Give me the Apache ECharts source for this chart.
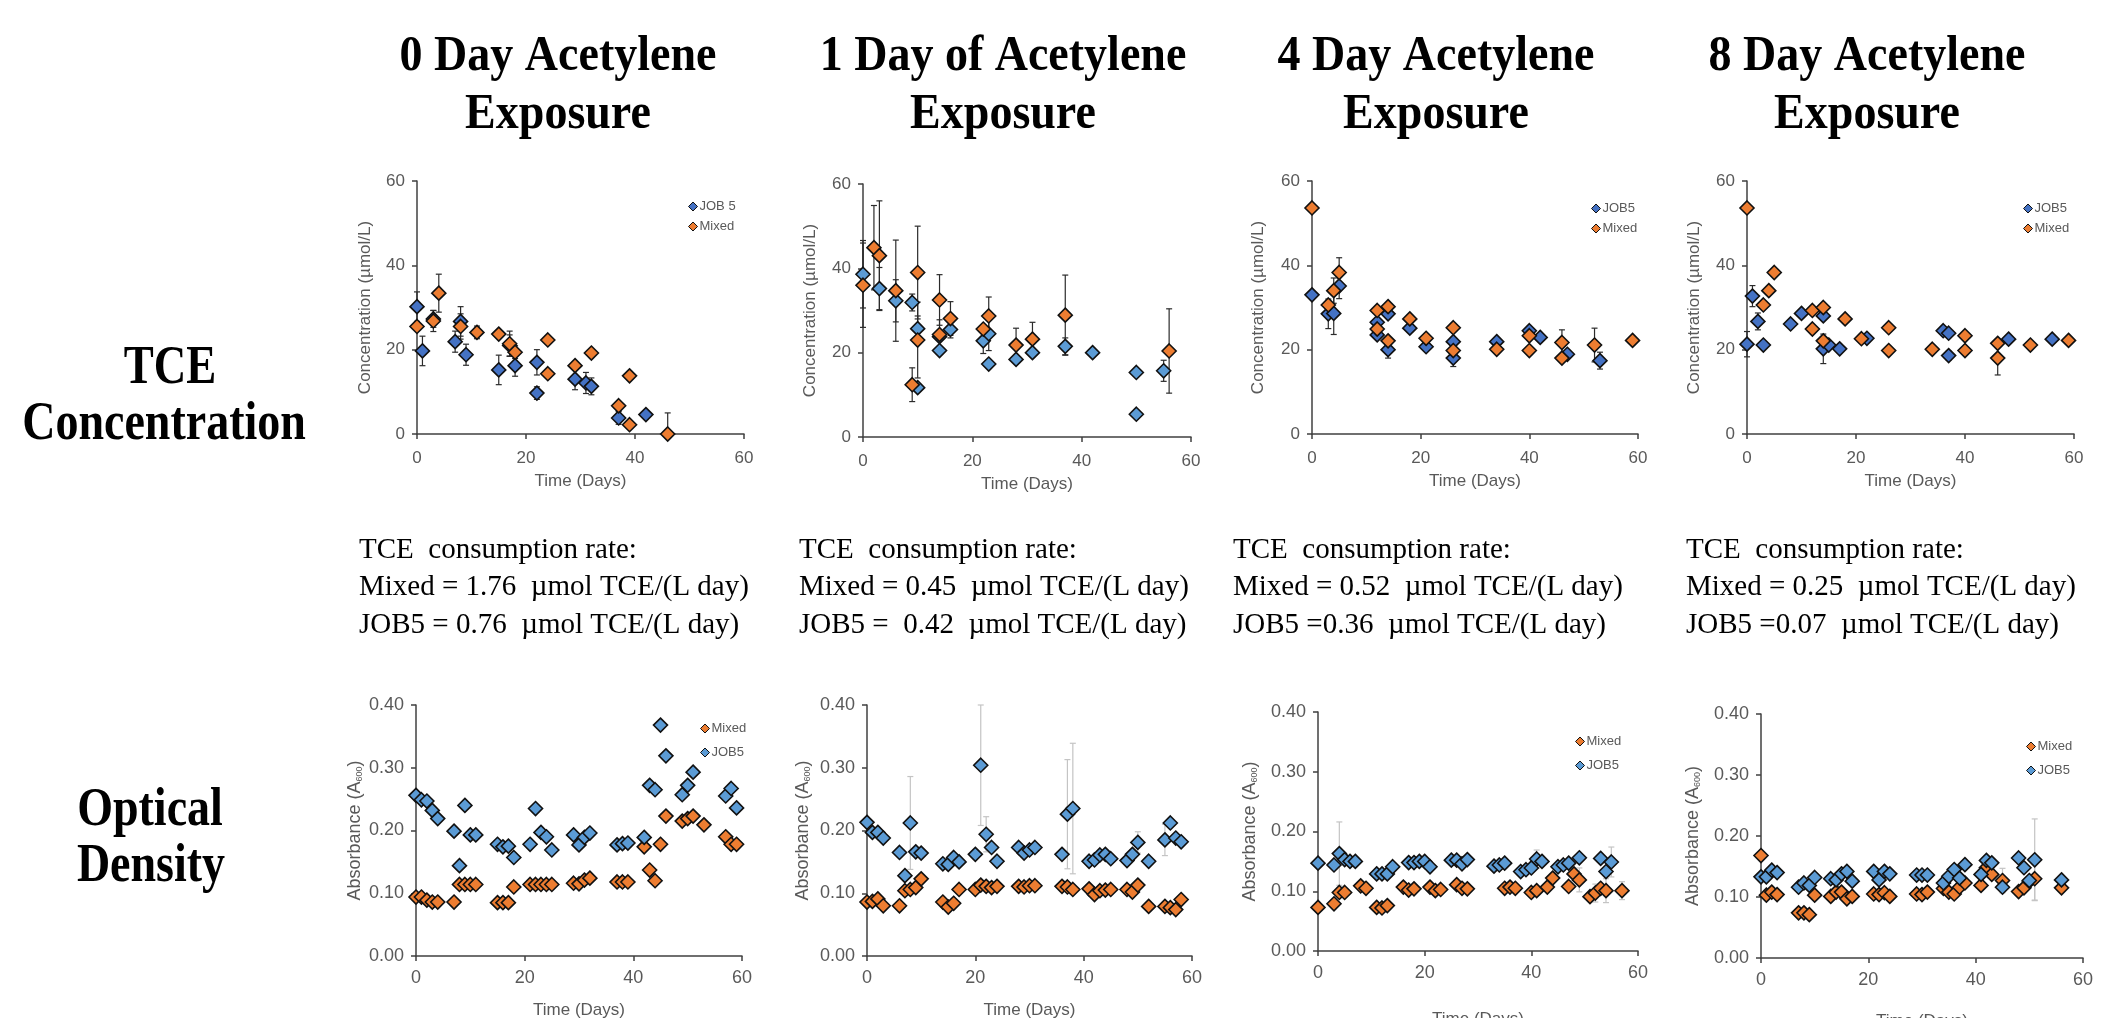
<!DOCTYPE html>
<html>
<head>
<meta charset="utf-8">
<script src="https://cdn.jsdelivr.net/npm/echarts@6/dist/echarts.min.js"></script>
<style>
  html, body { margin: 0; padding: 0; background: #fff; }
  #chart { width: 2102px; height: 1018px; }
</style>
</head>
<body>
<div id="chart"></div>
<script>
// each point: [day, value, error bar (optional)]
const conc0Job5 = [[0,30.2,3.5],[1,19.7,3.5],[3,27.3,2],[7,21.9,2.5],[8,26.7,3.5],[9,18.8,2.5],[15,15.2,3.5],[17,21,2.5],[18,16.2,2.5],[22,17,3],[22,9.7,1.5],[29,13,2.5],[31,12.1,2.5],[32,11.3,2],[37,3.8,1.5],[42,4.6]];
const conc0Mixed = [[0,25.5],[3,26.8,2.5],[4,33.4,4.5],[8,25.5,3],[11,24.1,1.5],[15,23.7],[17,21.4,3],[18,19.4,1.5],[24,22.3],[24,14.3],[29,16.2],[32,19.2],[37,6.7],[39,13.8],[39,2.2],[46,0,5]];

const conc1Job5 = [[0,38.6,8],[3,35.2,5],[6,32.3,5],[9,31.9,2],[10,25.7,3],[10,11.7],[14,23.8,4],[14,20.5],[16,25.5,2],[22,22.8,3],[23,24.5,4],[23,17.3],[28,18.4],[31,20],[37,21.5,2],[42,20],[50,15.3],[50,5.4],[55,15.7,2.5]];
const conc1Mixed = [[0,36,10],[2,44.9,10],[3,43,13],[6,34.7,12],[9,12.4,4],[10,39,11],[10,23,9],[14,32.5,6],[14,24.3],[16,28.1,4],[22,25.6],[23,28.7,4.5],[28,21.8,4],[31,23.2,4],[37,28.9,9.5],[56,20.4,10]];

const conc4Job5 = [[0,33],[3,28.5,3.5],[4,28.6,5],[5,35.1,3],[12,26.5],[12,23.5],[14,28.5],[14,20,2],[18,25.1],[21,20.7],[26,21.9],[26,18,2],[34,21.9],[40,24.5],[42,22.9],[47,18.9],[53,17.4,2]];
const conc4Mixed = [[0,53.6],[3,30.6],[4,34,3],[5,38.3,3.5],[12,29.3],[12,24.9],[14,30.2],[14,22.1],[18,27.3],[21,22.7,1],[26,25.2],[26,19.8],[34,20.1],[40,23.3],[40,19.8],[46,21.7,3],[46,18],[52,21.1,4],[59,22.2]];

const conc8Job5 = [[0,21.3,3],[1,32.7,2.5],[2,26.7,2],[3,21.1],[8,26.1],[10,28.6],[14,28],[14,20.2,3.5],[15,21.1],[17,20.2],[22,22.7],[36,24.5],[37,23.9],[37,18.6,1],[48,22.5],[56,22.5]];
const conc8Mixed = [[0,53.6],[3,30.6],[4,34],[5,38.3],[12,29.3],[12,24.9],[14,30],[14,22.1],[18,27.3],[21,22.6],[26,25.2],[26,19.8],[34,20.1],[40,23.3],[40,19.8],[46,21.5],[46,18,4],[52,21.1],[59,22.2]];

const od0Job5 = [[0,.256],[1,.249],[2,.247],[3,.232],[4,.219],[7,.199],[8,.144],[9,.240],[10,.193],[11,.193],[15,.178],[16,.174],[17,.175],[18,.157],[21,.178],[22,.235],[23,.197],[24,.190],[25,.169],[29,.193],[30,.177],[31,.189],[32,.196],[37,.177],[38,.179],[39,.180],[42,.189],[43,.272],[44,.265],[45,.368],[46,.319],[49,.257],[50,.272],[51,.293],[57,.255],[58,.267],[59,.236]];
const od0Mixed = [[0,.094],[1,.094],[2,.089],[3,.086],[4,.086],[7,.086],[8,.114],[9,.114],[10,.114],[11,.114],[15,.085],[16,.085],[17,.085],[18,.110],[21,.114],[22,.114],[23,.114],[24,.114],[25,.114],[29,.116],[30,.115],[31,.121],[32,.124],[37,.118],[38,.118],[39,.118],[42,.174],[43,.137],[44,.120],[45,.178],[46,.223],[49,.215],[50,.219],[51,.223],[53,.209],[57,.190],[58,.178],[59,.178]];

const od1Job5 = [[0,.213],[1,.197],[2,.197],[3,.188],[6,.165],[7,.128],[8,.212,.074],[9,.166],[10,.164],[14,.147],[15,.146],[16,.157],[17,.150],[20,.162],[21,.304,.096],[22,.194,.028],[23,.173],[24,.151],[28,.173],[29,.164],[30,.169],[31,.173],[36,.162],[37,.226,.087],[38,.235,.104],[41,.151],[42,.153],[43,.161],[44,.162],[45,.155],[48,.152],[49,.162],[50,.181,.017],[52,.151],[55,.185,.025],[56,.212],[57,.188],[58,.182]];
const od1Mixed = [[0,.086],[1,.087],[2,.091],[3,.080],[6,.080],[7,.104],[8,.106],[9,.109],[10,.123],[14,.086],[15,.078],[16,.084],[17,.106],[20,.106],[21,.113],[22,.111],[23,.109],[24,.111],[28,.111],[29,.110],[30,.112],[31,.112],[36,.111],[37,.110],[38,.106],[41,.107],[42,.098],[43,.104],[44,.105],[45,.106],[48,.106],[49,.102],[50,.113],[52,.079],[55,.079],[56,.077],[57,.074],[58,.090]];

const od4Job5 = [[0,.147],[3,.144],[4,.163,.053],[5,.153],[6,.150],[7,.150],[11,.129],[12,.129],[13,.129],[14,.141],[17,.148],[18,.148],[19,.150],[20,.150],[21,.141],[25,.152],[26,.152],[27,.146],[28,.153],[33,.142],[34,.144],[35,.147],[38,.133],[39,.136],[40,.139],[41,.154,.015],[42,.150],[45,.141],[46,.144],[47,.147],[49,.156],[53,.155],[54,.133],[55,.149,.025]];
const od4Mixed = [[0,.073],[3,.079],[4,.098],[5,.098],[8,.109],[9,.105],[11,.073],[12,.072],[13,.076],[16,.107],[17,.102],[18,.104],[21,.107],[22,.101],[23,.103],[26,.111],[27,.105],[28,.104],[35,.105],[36,.107],[37,.105],[40,.098],[41,.101],[43,.107],[44,.122],[47,.108],[48,.129],[49,.119,.02],[51,.091],[52,.097,.015],[53,.105],[54,.101,.02],[57,.101,.015]];

const od8Job5 = [[0,.133],[1,.133],[2,.144],[3,.140],[7,.116],[8,.123],[9,.119],[10,.132],[13,.130],[14,.128],[15,.138],[16,.142],[17,.126],[21,.142],[22,.128],[23,.142],[24,.138],[29,.136],[30,.136],[31,.136],[34,.123],[35,.134],[36,.145],[37,.131],[38,.153],[41,.137],[42,.160],[43,.156],[45,.116],[48,.164],[49,.148],[50,.127],[51,.161,.067],[56,.128]];
const od8Mixed = [[0,.168],[1,.103],[2,.108],[3,.104],[7,.074],[8,.074],[9,.071],[10,.103],[13,.101],[14,.108],[15,.108],[16,.097],[17,.101],[21,.105],[22,.104],[23,.107],[24,.101],[29,.105],[30,.104],[31,.108],[34,.114],[35,.108],[36,.105],[37,.116],[38,.123],[41,.119],[42,.148],[43,.137],[45,.127,.02],[48,.109],[49,.115],[50,.126],[51,.130,.035],[56,.115]];

const columnTitles = [['0 Day Acetylene', 'Exposure'], ['1 Day of Acetylene', 'Exposure'], ['4 Day Acetylene', 'Exposure'], ['8 Day Acetylene', 'Exposure']];
const rateLines = [
  ['TCE  consumption rate:', 'Mixed = 1.76  µmol TCE/(L day)', 'JOB5 = 0.76  µmol TCE/(L day)'],
  ['TCE  consumption rate:', 'Mixed = 0.45  µmol TCE/(L day)', 'JOB5 =  0.42  µmol TCE/(L day)'],
  ['TCE  consumption rate:', 'Mixed = 0.52  µmol TCE/(L day)', 'JOB5 =0.36  µmol TCE/(L day)'],
  ['TCE  consumption rate:', 'Mixed = 0.25  µmol TCE/(L day)', 'JOB5 =0.07  µmol TCE/(L day)']
];
const timeTicks = [0, 20, 40, 60];

const ORANGE = '#ED7D31';
const BLUE_DK = '#4472C4';
const BLUE_LT = '#5B9BD5';

// layout of the 8 small plots
const panels = [
  { box: [417, 181, 327, 253], od: false, job: conc0Job5, mix: conc0Mixed, blue: BLUE_DK, jobName: 'JOB 5', legend: [688, 200], xGap: 39, yGap: 43 },
  { box: [863, 184, 328, 253], od: false, job: conc1Job5, mix: conc1Mixed, blue: BLUE_LT, jobName: 'JOB5', legend: null, xGap: 39, yGap: 44 },
  { box: [1312, 181, 326, 253], od: false, job: conc4Job5, mix: conc4Mixed, blue: BLUE_DK, jobName: 'JOB5', legend: [1591, 202], xGap: 39, yGap: 45 },
  { box: [1747, 181, 327, 253], od: false, job: conc8Job5, mix: conc8Mixed, blue: BLUE_DK, jobName: 'JOB5', legend: [2023, 202], xGap: 39, yGap: 44 },
  { box: [416, 705, 326, 251], od: true, job: od0Job5, mix: od0Mixed, blue: BLUE_LT, jobName: 'JOB5', legend: [700, 722], xGap: 46, yGap: 52 },
  { box: [867, 705, 325, 251], od: true, job: od1Job5, mix: od1Mixed, blue: BLUE_LT, jobName: 'JOB5', legend: null, xGap: 46, yGap: 55 },
  { box: [1318, 712, 320, 239], od: true, job: od4Job5, mix: od4Mixed, blue: BLUE_LT, jobName: 'JOB5', legend: [1575, 735], xGap: 60, yGap: 59 },
  { box: [1761, 714, 322, 244], od: true, job: od8Job5, mix: od8Mixed, blue: BLUE_LT, jobName: 'JOB5', legend: [2026, 740], xGap: 55, yGap: 59 }
];

const AXIS = '#404040';
const LABEL = '#595959';

function errorRender(color) {
  return function (params, api) {
    const x = api.value(0), v = api.value(1), e = api.value(2);
    const hi = api.coord([x, v + e]);
    const lo = api.coord([x, Math.max(v - e, 0)]);
    const w = 3;
    const st = { stroke: color, lineWidth: 1.2 };
    return {
      type: 'group',
      children: [
        { type: 'line', shape: { x1: hi[0], y1: hi[1], x2: lo[0], y2: lo[1] }, style: st },
        { type: 'line', shape: { x1: hi[0] - w, y1: hi[1], x2: hi[0] + w, y2: hi[1] }, style: st },
        { type: 'line', shape: { x1: lo[0] - w, y1: lo[1], x2: lo[0] + w, y2: lo[1] }, style: st }
      ]
    };
  };
}

const grid = [], xAxis = [], yAxis = [], series = [], legend = [];

panels.forEach(function (p, i) {
  grid.push({ left: p.box[0], top: p.box[1], width: p.box[2], height: p.box[3], containLabel: false, outerBoundsMode: 'none' });
  const numSize = p.od ? 18 : 17;
  xAxis.push({
    gridIndex: i, type: 'value', min: 0, max: 60, interval: 20,
    axisLine: { show: true, lineStyle: { color: AXIS, width: 1.5 } },
    axisTick: { show: true, length: 5, lineStyle: { color: AXIS, width: 1.5 } },
    axisLabel: { fontSize: numSize, color: LABEL, margin: p.od ? 13 : 16, fontFamily: 'Liberation Sans',
      formatter: function (v) { return timeTicks.indexOf(v) >= 0 ? String(v) : ''; } },
    splitLine: { show: false },
    name: 'Time (Days)', nameLocation: 'middle', nameGap: p.xGap,
    nameTextStyle: { fontSize: 17, color: LABEL, fontFamily: 'Liberation Sans' }
  });
  yAxis.push({
    gridIndex: i, type: 'value', min: 0, max: p.od ? 0.4 : 60, interval: p.od ? 0.1 : 20,
    axisLine: { show: true, lineStyle: { color: AXIS, width: 1.5 } },
    axisTick: { show: true, length: 5, lineStyle: { color: AXIS, width: 1.5 } },
    axisLabel: { fontSize: numSize, color: LABEL, margin: 12, fontFamily: 'Liberation Sans',
      formatter: function (v) { return p.od ? v.toFixed(2) : String(v); } },
    splitLine: { show: false },
    name: p.od ? 'Absorbance (A{sub|600})' : 'Concentration (µmol/L)',
    nameLocation: 'middle', nameGap: p.yGap,
    nameTextStyle: {
      fontSize: p.od ? 18 : 17, color: LABEL, fontFamily: 'Liberation Sans',
      rich: { sub: { fontSize: 9, color: LABEL, fontFamily: 'Liberation Sans', verticalAlign: 'bottom', padding: [6, 0, 0, 0] } }
    }
  });

  const errColor = p.od ? '#c4c4c4' : '#2b2b2b';
  const sets = [
    { name: p.jobName, data: p.job, color: p.blue },
    { name: 'Mixed', data: p.mix, color: ORANGE }
  ];
  if (p.od) sets.reverse();
  sets.forEach(function (s) {
    series.push({
      type: 'custom', xAxisIndex: i, yAxisIndex: i, silent: true, z: 1,
      renderItem: errorRender(errColor),
      data: s.data.filter(function (d) { return d[2]; }).map(function (d) { return [d[0], d[1], d[2]]; })
    });
  });
  sets.forEach(function (s) {
    series.push({
      name: s.name, type: 'scatter', xAxisIndex: i, yAxisIndex: i, z: 3,
      symbol: 'diamond', symbolSize: 14,
      itemStyle: { color: s.color, borderColor: '#111', borderWidth: 1.6, opacity: 1 },
      data: s.data.map(function (d) { return [d[0], d[1]]; })
    });
  });

  if (p.legend) {
    const order = p.od ? [['Mixed', ORANGE], [p.jobName, p.blue]] : [[p.jobName, p.blue], ['Mixed', ORANGE]];
    legend.push({
      left: p.legend[0], top: p.legend[1], orient: 'vertical', itemGap: p.od ? 11 : 7,
      itemWidth: 9, itemHeight: 9, padding: 0, selectedMode: false,
      textStyle: { fontSize: 13, color: LABEL, fontFamily: 'Liberation Sans', padding: [0, 0, 0, -3] },
      data: order.map(function (o) {
        return { name: o[0], icon: 'diamond', itemStyle: { color: o[1], borderColor: '#111', borderWidth: 1 } };
      })
    });
  }
});

function txt(x, y, text, size, bold, align, sy) {
  return {
    type: 'text', x: x, y: y, scaleY: sy || 1, silent: true,
    style: {
      text: text, fill: '#000',
      font: (bold ? 'bold ' : '') + size + 'px "Liberation Serif", "Times New Roman", serif',
      textAlign: align, textVerticalAlign: 'middle'
    }
  };
}

const graphic = [];
const titleX = [558, 1003, 1436, 1867];
columnTitles.forEach(function (t, i) {
  graphic.push(txt(titleX[i], 57, t[0], 46, true, 'center', 1.12));
  graphic.push(txt(titleX[i], 115, t[1], 46, true, 'center', 1.12));
});
graphic.push(txt(170, 369, 'TCE', 45, true, 'center', 1.22));
graphic.push(txt(164, 425, 'Concentration', 46, true, 'center', 1.2));
graphic.push(txt(150, 811, 'Optical', 46, true, 'center', 1.2));
graphic.push(txt(151, 867, 'Density', 46, true, 'center', 1.2));
const rateX = [359, 799, 1233, 1686];
rateLines.forEach(function (lines, i) {
  lines.forEach(function (l, j) {
    graphic.push(txt(rateX[i], 550 + j * 37.5, l, 29, false, 'left', 1));
  });
});

const chart = echarts.init(document.getElementById('chart'));
chart.setOption({
  backgroundColor: '#fff',
  animation: false,
  grid: grid,
  xAxis: xAxis,
  yAxis: yAxis,
  legend: legend,
  series: series,
  graphic: graphic
});
</script>
</body>
</html>
